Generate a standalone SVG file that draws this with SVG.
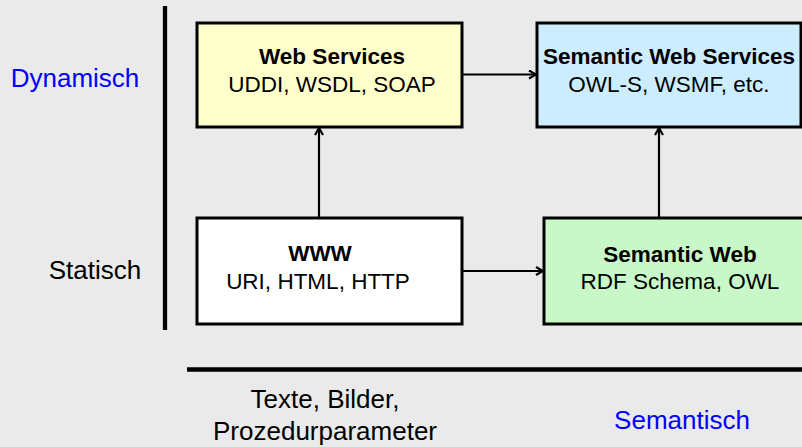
<svg xmlns="http://www.w3.org/2000/svg" width="802" height="447" viewBox="0 0 802 447">
<defs>
<marker id="arr" markerWidth="10" markerHeight="12" refX="8" refY="5" orient="auto" markerUnits="userSpaceOnUse">
<path d="M1,1 L8,5 L1,9" fill="none" stroke="#000" stroke-width="2.2"/>
</marker>
<style>
.box{stroke:#000;stroke-width:3}
.t{font-family:"Liberation Sans",Arial,sans-serif;font-size:22.5px;text-anchor:middle;fill:#000}
.b{font-weight:bold}
.lbl{font-family:"Liberation Sans",Arial,sans-serif;font-size:26px;text-anchor:middle}
.conn{stroke:#000;stroke-width:2.2;fill:none}
.axis{stroke:#000;stroke-width:4.3;fill:none}
</style>
</defs>
<rect width="802" height="447" fill="#EAEAEA"/>
<line class="axis" x1="165" y1="6" x2="165" y2="330"/>
<line class="axis" x1="187" y1="369.5" x2="802" y2="369.5"/>
<text class="lbl" x="75" y="87" fill="#0000FF">Dynamisch</text>
<text class="lbl" x="95" y="279" fill="#000">Statisch</text>
<text class="lbl" x="325" y="408" fill="#000">Texte, Bilder,</text>
<text class="lbl" x="325" y="440" fill="#000">Prozedurparameter</text>
<text class="lbl" x="682" y="429" fill="#0000FF">Semantisch</text>
<g id="connectors">
<line class="conn" x1="462" y1="74.5" x2="536" y2="74.5" marker-end="url(#arr)"/>
<line class="conn" x1="462" y1="271" x2="543" y2="271" marker-end="url(#arr)"/>
<line class="conn" x1="319" y1="218" x2="319" y2="128" marker-end="url(#arr)"/>
<line class="conn" x1="659" y1="218" x2="659" y2="128" marker-end="url(#arr)"/>
</g>
<g id="web-services">
<rect class="box" x="197" y="23" width="265" height="104" fill="#FFFFCC"/>
<text class="t b" x="332" y="64">Web Services</text>
<text class="t" x="332" y="92">UDDI, WSDL, SOAP</text>
</g>
<g id="semantic-web-services">
<rect class="box" x="537" y="23" width="264" height="104" fill="#CCECFF"/>
<text class="t b" x="669" y="64">Semantic Web Services</text>
<text class="t" x="669" y="92">OWL-S, WSMF, etc.</text>
</g>
<g id="www">
<rect class="box" x="197" y="218" width="265" height="106" fill="#FFFFFF"/>
<text class="t b" x="320" y="261">WWW</text>
<text class="t" x="318" y="289">URI, HTML, HTTP</text>
</g>
<g id="semantic-web">
<rect class="box" x="544" y="218" width="262" height="106" fill="#C8F8C8"/>
<text class="t b" x="680" y="262">Semantic Web</text>
<text class="t" x="680" y="289">RDF Schema, OWL</text>
</g>
</svg>
